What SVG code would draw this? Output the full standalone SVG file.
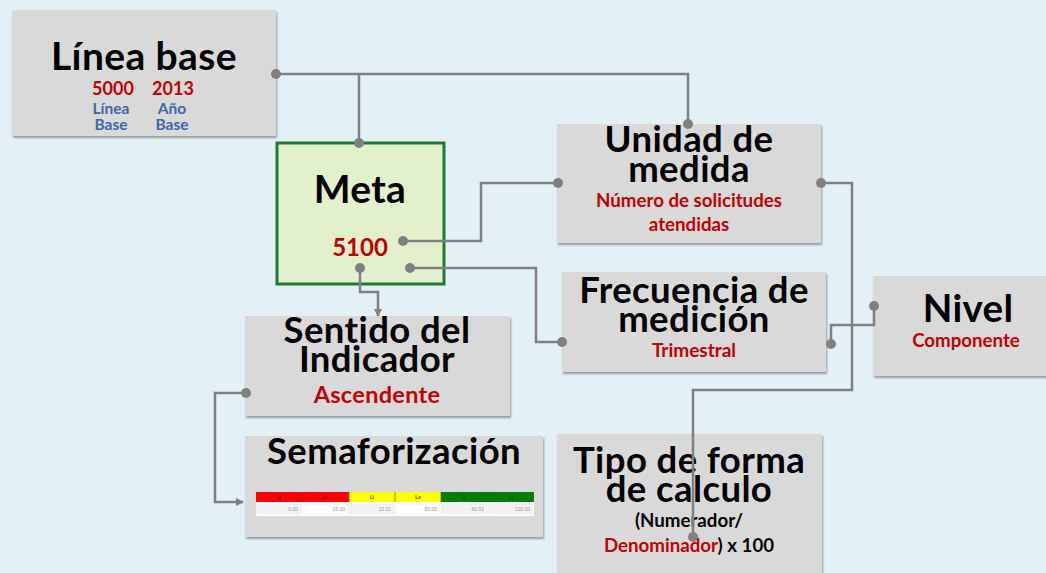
<svg xmlns="http://www.w3.org/2000/svg" width="1046" height="573" viewBox="0 0 1046 573">
<defs>
<style>
.box{fill:#d9d9d9;filter:url(#sh)}
.t{font-family:Lato,"Liberation Sans",sans-serif;font-weight:bold;text-anchor:middle;fill:#000}
.h{font-size:36.5px;letter-spacing:0.4px}
.r{fill:#c00000}
.b{fill:#3e66a8}
.c{fill:none;stroke:#808080;stroke-width:2.5}
.d{fill:#808080}
.s{font-family:"Liberation Sans",sans-serif;font-size:5px;text-anchor:middle;fill:#000}
.v{font-family:"Liberation Sans",sans-serif;font-size:5px;text-anchor:end;fill:#999}
</style>
<filter id="sh" x="-5%" y="-5%" width="110%" height="115%">
<feDropShadow dx="1" dy="2" stdDeviation="1.2" flood-color="#000" flood-opacity="0.35"/>
</filter>
<marker id="ar" markerWidth="8" markerHeight="8" refX="7" refY="4" orient="auto" markerUnits="userSpaceOnUse">
<path d="M0,0 L8,4 L0,8 Z" fill="#808080"/>
</marker>
</defs>
<rect width="1046" height="573" fill="#e3f1f7"/>

<g id="linea-base">
<rect class="box" x="12" y="10" width="264" height="126"/>
<text class="t" x="144" y="70" font-size="39" letter-spacing="0.4">Línea base</text>
<text class="t r" x="113" y="95" font-size="18">5000</text>
<text class="t r" x="173" y="95" font-size="18">2013</text>
<text class="t b" x="111" y="114" font-size="15.5"><tspan x="111">Línea</tspan><tspan x="111" dy="16">Base</tspan></text>
<text class="t b" x="172" y="114" font-size="15.5"><tspan x="172">Año</tspan><tspan x="172" dy="16">Base</tspan></text>
</g>

<g id="meta">
<rect x="277" y="143" width="167" height="141" fill="#e2f0cb" stroke="#1e7b34" stroke-width="3"/>
<text class="t" x="360" y="203" font-size="39" letter-spacing="0.3">Meta</text>
<text class="t r" x="360" y="256" font-size="24">5100</text>
</g>

<g id="unidad-medida">
<rect class="box" x="557" y="124" width="264" height="119"/>
<text class="t h" x="689" y="152"><tspan x="689">Unidad de</tspan><tspan x="689" dy="30">medida</tspan></text>
<text class="t r" x="689" y="207" font-size="18.7"><tspan x="689">Número de solicitudes</tspan><tspan x="689" dy="24">atendidas</tspan></text>
</g>

<g id="frecuencia">
<rect class="box" x="562" y="272" width="264" height="100"/>
<text class="t h" x="694" y="303"><tspan x="694">Frecuencia de</tspan><tspan x="694" dy="29">medición</tspan></text>
<text class="t r" x="694" y="357" font-size="19">Trimestral</text>
</g>

<g id="nivel">
<rect class="box" x="873" y="276" width="180" height="100"/>
<text class="t" x="968" y="322" font-size="38.5" letter-spacing="0.3">Nivel</text>
<text class="t r" x="966" y="347" font-size="18.7">Componente</text>
</g>

<g id="sentido">
<rect class="box" x="245" y="316" width="265" height="100"/>
<text class="t h" x="377" y="343"><tspan x="377">Sentido del</tspan><tspan x="377" dy="29">Indicador</tspan></text>
<text class="t r" x="377" y="403" font-size="23.5" letter-spacing="0.3">Ascendente</text>
</g>

<g id="semaforizacion">
<rect class="box" x="245" y="436" width="298" height="101"/>
<text class="t h" x="394" y="464">Semaforización</text>
<rect x="256" y="492" width="278" height="24" fill="#fff"/>
<rect x="256" y="492" width="93" height="10" fill="#ff0000"/>
<rect x="349" y="492" width="92" height="10" fill="#ffff00"/>
<rect x="441" y="492" width="93" height="10" fill="#008000"/>
<g stroke="#444" stroke-width="0.6">
<line x1="302" y1="492" x2="302" y2="502"/><line x1="349" y1="492" x2="349" y2="502"/>
<line x1="395" y1="492" x2="395" y2="502"/><line x1="441" y1="492" x2="441" y2="502"/>
<line x1="488" y1="492" x2="488" y2="502"/>
</g>
<g fill="#f3f3f3" stroke="#e0e0e0" stroke-width="0.5">
<rect x="257" y="504" width="44" height="10"/>
<rect x="304" y="504" width="44" height="10" fill="#fff"/>
<rect x="350" y="504" width="44" height="10"/>
<rect x="396" y="504" width="44" height="10" fill="#fff"/>
<rect x="442" y="504" width="45" height="10"/>
<rect x="489" y="504" width="44" height="10"/>
</g>
<text class="s" x="279" y="499">Li</text><text class="s" x="325" y="499">Ls</text>
<text class="s" x="372" y="499">Li</text><text class="s" x="418" y="499">Ls</text>
<text class="s" x="464" y="499">Li</text><text class="s" x="511" y="499">Ls</text>
<text class="v" x="298" y="511">0.00</text><text class="v" x="345" y="511">15.00</text>
<text class="v" x="391" y="511">15.01</text><text class="v" x="437" y="511">60.00</text>
<text class="v" x="484" y="511">60.01</text><text class="v" x="530" y="511">110.00</text>
</g>

<g id="tipo-forma">
<rect class="box" x="557" y="434" width="265" height="145"/>
<text class="t h" x="689" y="473"><tspan x="689">Tipo de forma</tspan><tspan x="689" dy="29">de calculo</tspan></text>
<text class="t" x="689" y="527" font-size="18.7"><tspan x="689">(Numerador/</tspan><tspan x="689" dy="25"><tspan class="r">Denominador</tspan>) x 100</tspan></text>
</g>

<g id="connectors">
<path class="c" d="M276,74 H688 V124"/>
<path class="c" d="M359,74 V143"/>
<path class="c" d="M403,241 H481 V183 H558"/>
<path class="c" d="M410,268 H536 V342 H562"/>
<path class="c" d="M360,268 V292 H378 V316" marker-end="url(#ar)"/>
<path class="c" d="M821,183 H852 V390 H693 V537"/>
<path class="c" d="M831,344 V325 H874 V306"/>
<path class="c" d="M246,393 H215 V502 H243" marker-end="url(#ar)"/>
<g class="d">
<circle cx="276" cy="74" r="5"/><circle cx="688" cy="124" r="5"/><circle cx="359" cy="143" r="5"/>
<circle cx="403" cy="241" r="5"/><circle cx="558" cy="183" r="5"/>
<circle cx="410" cy="268" r="5"/><circle cx="562" cy="342" r="5"/>
<circle cx="360" cy="268" r="5"/>
<circle cx="821" cy="183" r="5"/><circle cx="693" cy="537" r="5"/>
<circle cx="831" cy="344" r="5"/><circle cx="874" cy="306" r="5"/>
<circle cx="246" cy="393" r="5"/>
</g>
</g>
</svg>
